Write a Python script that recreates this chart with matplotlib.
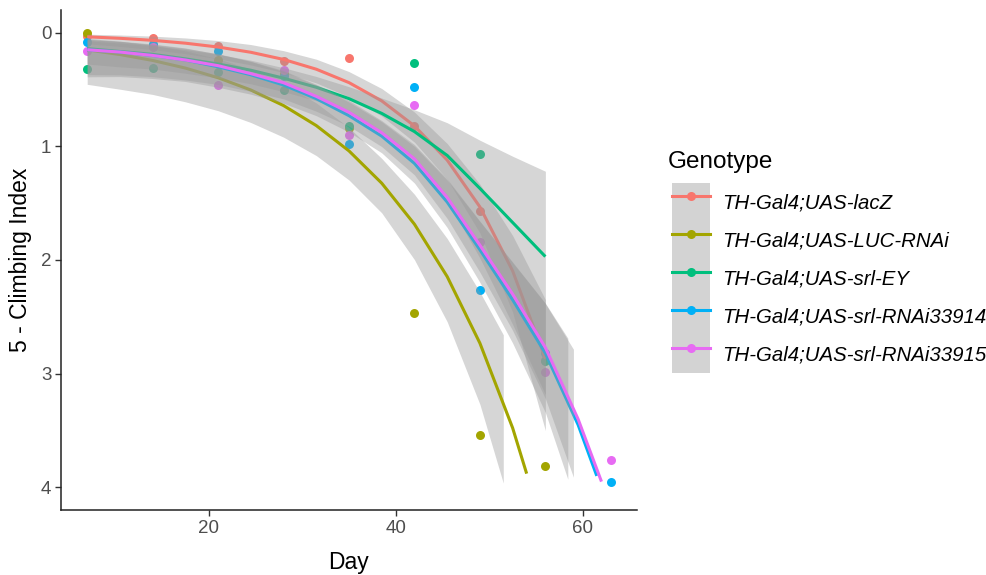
import matplotlib
matplotlib.use("Agg")
import matplotlib.pyplot as plt
from matplotlib.lines import Line2D
from matplotlib.patches import Patch
from matplotlib.legend_handler import HandlerTuple

plt.rcParams['font.family'] = 'Liberation Sans'

genotypes = ['TH-Gal4;UAS-lacZ', 'TH-Gal4;UAS-LUC-RNAi', 'TH-Gal4;UAS-srl-EY',
             'TH-Gal4;UAS-srl-RNAi33914', 'TH-Gal4;UAS-srl-RNAi33915']
colors = ['#F8766D', '#A3A500', '#00BF7D', '#00B0F6', '#E76BF3']

# observed points (5 - climbing index)
lacz_days = [7, 14, 21, 28, 35, 42, 49, 56]
lacz_vals = [0.03, 0.05, 0.12, 0.25, 0.22, 0.82, 1.57, 2.88]
luc_days = [7, 14, 21, 28, 35, 42, 49, 56]
luc_vals = [0.0, 0.12, 0.24, 0.36, 0.84, 2.47, 3.54, 3.81]
ey_days = [7, 14, 21, 28, 35, 42, 49, 56]
ey_vals = [0.32, 0.31, 0.35, 0.50, 0.82, 0.27, 1.07, 2.89]
r914_days = [7, 14, 21, 28, 35, 42, 49, 56, 63]
r914_vals = [0.08, 0.10, 0.16, 0.38, 0.98, 0.48, 2.26, 2.82, 3.95]
r915_days = [7, 14, 21, 28, 35, 42, 49, 56, 63]
r915_vals = [0.16, 0.13, 0.46, 0.33, 0.90, 0.64, 1.84, 2.99, 3.76]

# smoothed fits
lacz_fit_days = [7, 10.5, 14, 17.5, 21, 24.5, 28, 31.5, 35, 38.5, 42, 45.5, 49, 52.5, 56]
lacz_fit = [0.036, 0.049, 0.067, 0.092, 0.126, 0.172, 0.235, 0.321, 0.439, 0.600, 0.820, 1.121, 1.533, 2.096, 2.867]
lacz_lo = [0.013, 0.020, 0.030, 0.046, 0.069, 0.104, 0.158, 0.233, 0.342, 0.491, 0.698, 0.975, 1.333, 1.785, 2.348]
lacz_hi = [0.098, 0.121, 0.149, 0.185, 0.230, 0.284, 0.351, 0.442, 0.564, 0.733, 0.963, 1.289, 1.763, 2.461, 3.501]

luc_fit_days = [7, 10.5, 14, 17.5, 21, 24.5, 28, 31.5, 35, 38.5, 42, 45.5, 49, 52.5, 54]
luc_fit = [0.151, 0.192, 0.244, 0.311, 0.396, 0.504, 0.641, 0.817, 1.040, 1.324, 1.685, 2.146, 2.732, 3.478, 3.88]
luc_band_days = [7, 10.5, 14, 17.5, 21, 24.5, 28, 31.5, 35, 38.5, 42, 45.5, 49, 51.5]
luc_lo = [0.050, 0.074, 0.110, 0.159, 0.229, 0.321, 0.447, 0.618, 0.835, 1.106, 1.422, 1.811, 2.282, 2.658]
luc_hi = [0.454, 0.497, 0.543, 0.608, 0.686, 0.790, 0.919, 1.081, 1.296, 1.585, 1.997, 2.543, 3.270, 3.963]

ey_fit_days = [7, 10.5, 14, 17.5, 21, 24.5, 28, 31.5, 35, 38.5, 42, 45.5, 49, 52.5, 56]
ey_fit = [0.14, 0.165, 0.19, 0.23, 0.275, 0.33, 0.40, 0.48, 0.58, 0.71, 0.87, 1.08, 1.37, 1.67, 1.97]
ey_lo = [0.071, 0.091, 0.113, 0.148, 0.190, 0.242, 0.308, 0.385, 0.475, 0.575, 0.678, 0.792, 0.946, 1.087, 1.219]
ey_hi = [0.276, 0.301, 0.320, 0.357, 0.398, 0.450, 0.519, 0.598, 0.708, 0.876, 1.117, 1.472, 1.984, 2.567, 3.184]

r914_fit_days = [7, 10.5, 14, 17.5, 21, 24.5, 28, 31.5, 35, 38.5, 42, 45.5, 49, 52.5, 56, 59.5, 61.5]
r914_fit = [0.15, 0.17, 0.20, 0.24, 0.30, 0.37, 0.46, 0.58, 0.73, 0.91, 1.15, 1.49, 1.91, 2.35, 2.82, 3.45, 3.90]
r914_band_days = [7, 10.5, 14, 17.5, 21, 24.5, 28, 31.5, 35, 38.5, 42, 45.5, 49, 52.5, 56, 58.4]
r914_lo = [0.058, 0.075, 0.099, 0.134, 0.188, 0.253, 0.341, 0.461, 0.610, 0.783, 1.000, 1.296, 1.661, 2.022, 2.380, 2.688]
r914_hi = [0.388, 0.386, 0.403, 0.429, 0.480, 0.541, 0.621, 0.730, 0.874, 1.057, 1.323, 1.714, 2.197, 2.731, 3.342, 3.929]

r915_fit_days = [7, 10.5, 14, 17.5, 21, 24.5, 28, 31.5, 35, 38.5, 42, 45.5, 49, 52.5, 56, 59.5, 62]
r915_fit = [0.15, 0.17, 0.20, 0.24, 0.29, 0.36, 0.44, 0.56, 0.70, 0.88, 1.11, 1.45, 1.87, 2.30, 2.77, 3.40, 3.95]
r915_band_days = [7, 10.5, 14, 17.5, 21, 24.5, 28, 31.5, 35, 38.5, 42, 45.5, 49, 52.5, 56, 59]
r915_lo = [0.061, 0.078, 0.103, 0.138, 0.185, 0.251, 0.333, 0.454, 0.596, 0.773, 0.985, 1.287, 1.659, 2.019, 2.384, 2.785]
r915_hi = [0.369, 0.371, 0.387, 0.416, 0.455, 0.516, 0.582, 0.691, 0.822, 1.002, 1.251, 1.634, 2.107, 2.620, 3.219, 3.911]

points = [(lacz_days, lacz_vals), (luc_days, luc_vals), (ey_days, ey_vals),
          (r914_days, r914_vals), (r915_days, r915_vals)]
fits = [(lacz_fit_days, lacz_fit), (luc_fit_days, luc_fit), (ey_fit_days, ey_fit),
        (r914_fit_days, r914_fit), (r915_fit_days, r915_fit)]
bands = [(lacz_fit_days, lacz_lo, lacz_hi), (luc_band_days, luc_lo, luc_hi),
         (ey_fit_days, ey_lo, ey_hi), (r914_band_days, r914_lo, r914_hi),
         (r915_band_days, r915_lo, r915_hi)]

fig = plt.figure(figsize=(9.86, 5.75), dpi=100)
ax = fig.add_axes([61/986, 1 - 510/575, (637 - 61)/986, (510 - 10)/575])

for (d, v), c in zip(points, colors):
    ax.scatter(d, v, s=42, color=c, zorder=1, linewidths=0)

# ribbon then line for each genotype, later ones drawn on top
for i, c in enumerate(colors):
    bd, lo, hi = bands[i]
    ax.fill_between(bd, lo, hi, color='#999999', alpha=0.4, linewidth=0, zorder=2 + 2*i)
    fd, fv = fits[i]
    ax.plot(fd, fv, color=c, lw=2.2, zorder=3 + 2*i, solid_capstyle='butt')

ax.set_xlim(4.2, 65.8)
ax.set_ylim(4.2, -0.2)
ax.set_xticks([20, 40, 60])
ax.set_yticks([0, 1, 2, 3, 4])
for s in ['top', 'right']:
    ax.spines[s].set_visible(False)
for s in ['left', 'bottom']:
    ax.spines[s].set_linewidth(1.1)
    ax.spines[s].set_color('#222222')
ax.tick_params(length=4, width=1.0, color='#333333', labelcolor='#4D4D4D', labelsize=13.5, pad=3)
ax.set_xlabel('Day', fontsize=16.5, labelpad=10)
ax.set_ylabel('5 - Climbing Index', fontsize=16.5, labelpad=6)

handles = [(Patch(facecolor='#d3d3d3', edgecolor='none'),
            Line2D([], [], color=c, lw=2.2, marker='o', markersize=6.5, markeredgewidth=0))
           for c in colors]
leg = fig.legend(handles, genotypes, handler_map={tuple: HandlerTuple(ndivide=1, pad=0)},
                 loc='upper left', bbox_to_anchor=(662/986, 1 - 173/575), frameon=False,
                 prop={'style': 'italic', 'size': 14.7}, labelspacing=0,
                 handleheight=2.486, handlelength=1.861, handletextpad=0.59, borderpad=0)
fig.text(668/986, 1 - 162/575, 'Genotype', fontsize=17.5, ha='left', va='center')

fig.savefig('out.png', dpi=100)
